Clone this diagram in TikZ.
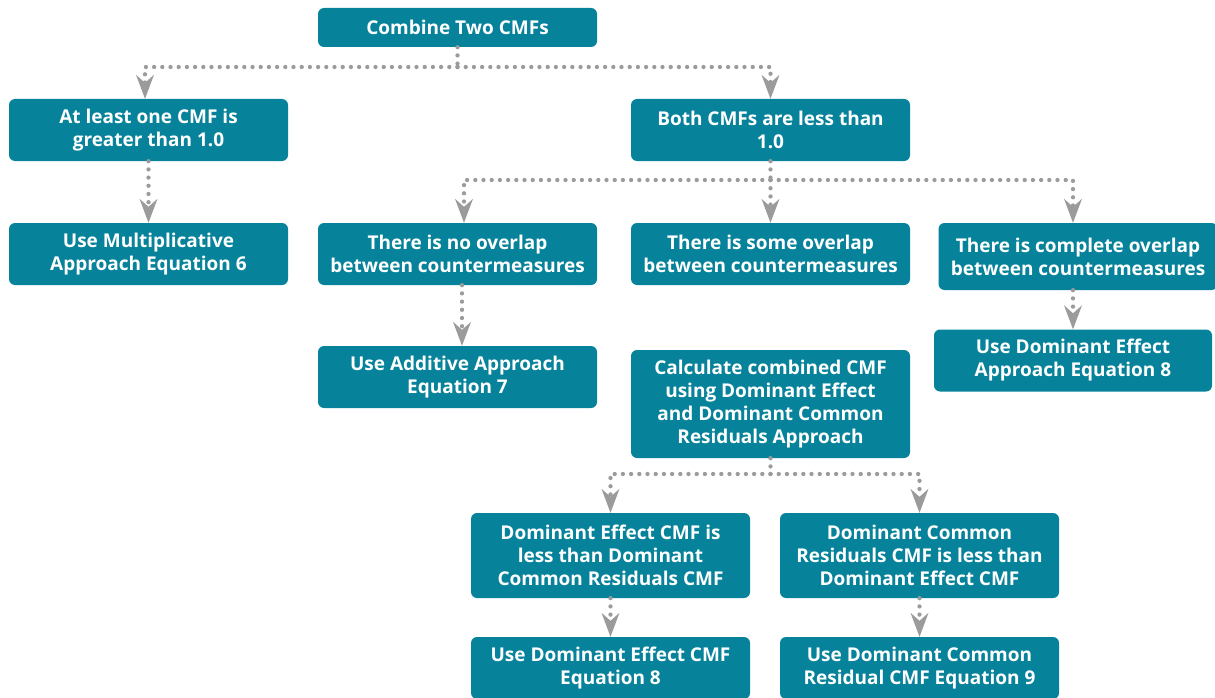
\documentclass[tikz,border=0pt]{standalone}
\usepackage{fontspec}
\setmainfont{Open Sans}
\usetikzlibrary{arrows.meta}
\definecolor{boxteal}{HTML}{06839B}
\definecolor{dotgray}{HTML}{9B9B9B}
\tikzset{
  box/.style={fill=boxteal, rounded corners=6pt, minimum width=279pt, text=white,
    align=center, inner sep=0pt, font=\fontsize{19}{23}\selectfont\bfseries},
  dotline/.style={draw=dotgray, line width=4.3pt, line cap=round, dash pattern=on 0pt off 8.2pt},
  conn/.style={dotline, -{Stealth[length=24pt,width=18pt,inset=8pt,fill=dotgray,line width=0pt]}},
}
\begin{document}
\begin{tikzpicture}[x=1pt,y=-1pt]
\useasboundingbox (0,0) rectangle (1215,698);
\node[box, minimum height=39pt] (combine) at (457.5,27.5) {Combine Two CMFs};
\node[box, minimum height=62pt] (atleast) at (148.5,130) {At least one CMF is\\greater than 1.0};
\node[box, minimum height=62pt] (both) at (770.5,130) {Both CMFs are less than\\1.0};
\node[box, minimum height=62pt] (mult) at (148.5,254) {Use Multiplicative\\Approach Equation 6};
\node[box, minimum height=62pt] (noov) at (457.5,254) {There is no overlap\\between countermeasures};
\node[box, minimum height=62pt] (someov) at (770.5,254) {There is some overlap\\between countermeasures};
\node[box, minimum height=67pt] (compov) at (1078,256.5) {There is complete overlap\\between countermeasures};
\node[box, minimum height=62pt] (addit) at (457.5,377) {Use Additive Approach\\Equation 7};
\node[box, minimum height=108pt] (calc) at (770.5,404) {Calculate combined CMF\\using Dominant Effect\\and Dominant Common\\Residuals Approach};
\node[box, minimum height=62pt, minimum width=278pt] (domeq8) at (1073,360.5) {Use Dominant Effect\\Approach Equation 8};
\node[box, minimum height=85pt] (deless) at (610.5,555.5) {Dominant Effect CMF is\\less than Dominant\\Common Residuals CMF};
\node[box, minimum height=85pt] (dcrless) at (919.5,555.5) {Dominant Common\\Residuals CMF is less than\\Dominant Effect CMF};
\node[box, minimum height=62pt] (usede) at (610.5,668) {Use Dominant Effect CMF\\Equation 8};
\node[box, minimum height=62pt] (usedcr) at (919.5,668) {Use Dominant Common\\Residual CMF Equation 9};
% connectors
\coordinate (j1) at (457.5,67);
\draw[dotline] (combine.south) -- (j1);
\draw[conn] (j1) -| (atleast.north -| 145,0);
\draw[conn] (j1) -| (both.north);
\draw[conn] (atleast.south) -- (mult.north);
\coordinate (j2) at (770.5,180);
\draw[dotline] (both.south) -- (j2);
\draw[conn] (j2) -| (noov.north -| 464,0);
\draw[conn] (j2) -- (someov.north);
\draw[conn] (j2) -| (compov.north -| 1073,0);
\draw[conn] (noov.south -| 462,0) -- (addit.north -| 462,0);
\draw[conn] (compov.south -| 1073,0) -- (domeq8.north);
\coordinate (j3) at (770.5,474);
\draw[dotline] (calc.south) -- (j3);
\draw[conn] (j3) -| (deless.north);
\draw[conn] (j3) -| (dcrless.north);
\draw[conn] (deless.south) -- (usede.north);
\draw[conn] (dcrless.south) -- (usedcr.north);
\end{tikzpicture}
\end{document}
